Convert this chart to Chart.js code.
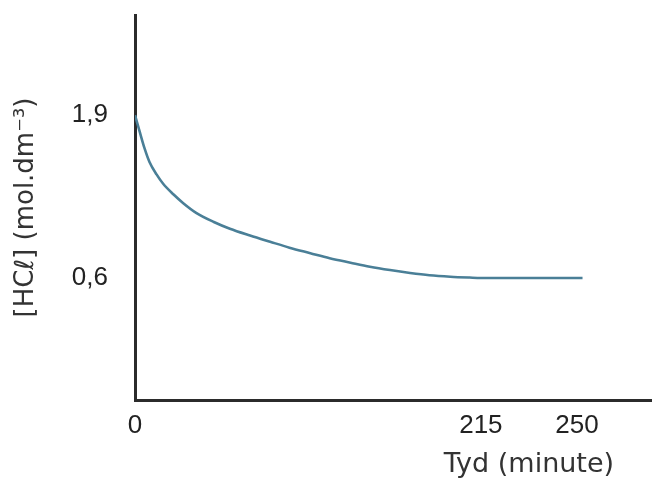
<!DOCTYPE html>
<html>
<head>
<meta charset="utf-8">
<script src="https://cdn.jsdelivr.net/npm/chart.js@4.4.1/dist/chart.umd.min.js"></script>
<style>
  html, body { margin: 0; padding: 0; background: #fff; }
  #box { width: 652px; height: 484px; }
</style>
</head>
<body>
<div id="box"><canvas id="grafico"></canvas></div>
<script>
// waardes gelees van die skets: tyd in minute, [HCl] in mol.dm-3
var tyd = [0, 3, 6, 9, 13.5, 17.5, 24, 30, 38, 49, 59, 71.5, 84, 96, 109, 121, 134, 146, 158.5, 171, 183, 196, 208, 215, 252];
var konsentrasie = [1.90, 1.764, 1.632, 1.526, 1.425, 1.352, 1.266, 1.197, 1.120, 1.047, 0.993, 0.939, 0.889, 0.842, 0.798, 0.758, 0.722, 0.690, 0.663, 0.640, 0.622, 0.610, 0.603, 0.600, 0.600];
var xMerke = [0, 215, 250];
var yMerke = [0.6, 1.9];

// die skets is nie op skaal nie: waar elke x-merk op die as le (deel van die breedte)
var xMerkPlek = [0, 0.669, 0.855];

// lineere skaal wat stuksgewys tussen die merke rek
class SketsSkaal extends Chart.LinearScale {
  getPixelForValue(v) {
    if (v === null || v === undefined) return NaN;
    var i = 1;
    while (i < xMerke.length - 1 && v > xMerke[i]) i++;
    var d = xMerkPlek[i - 1] + (v - xMerke[i - 1]) * (xMerkPlek[i] - xMerkPlek[i - 1]) / (xMerke[i] - xMerke[i - 1]);
    return this.getPixelForDecimal(d);
  }
  getValueForPixel(p) {
    var d = this.getDecimalForPixel(p);
    var i = 1;
    while (i < xMerkPlek.length - 1 && d > xMerkPlek[i]) i++;
    return xMerke[i - 1] + (d - xMerkPlek[i - 1]) * (xMerke[i] - xMerke[i - 1]) / (xMerkPlek[i] - xMerkPlek[i - 1]);
  }
}
SketsSkaal.id = 'skets';
SketsSkaal.defaults = {};
Chart.register(SketsSkaal);

// x-as titel, gesentreer tussen die laaste twee merke
var asTitel = {
  id: 'asTitel',
  afterDraw: function(chart) {
    var x = chart.scales.x;
    var ctx = chart.ctx;
    var midde = (x.getPixelForValue(xMerke[1]) + x.getPixelForValue(xMerke[2])) / 2;
    ctx.save();
    ctx.font = '27px "DejaVu Sans"';
    ctx.fillStyle = '#333';
    ctx.textAlign = 'center';
    ctx.textBaseline = 'alphabetic';
    ctx.fillText('Tyd (minute)', midde, x.bottom - 12);
    ctx.restore();
  }
};

var punte = [];
for (var i = 0; i < tyd.length; i++) {
  punte.push({ x: tyd[i], y: konsentrasie[i] });
}

var ctx = document.getElementById('grafico');
var chart = new Chart(ctx, {
  type: 'line',
  data: {
    datasets: [{
      label: '[HCℓ]',
      data: punte,
      borderColor: '#4a7f97',
      borderWidth: 2.6,
      pointRadius: 0,
      cubicInterpolationMode: 'monotone',
      fill: false
    }]
  },
  options: {
    responsive: true,
    maintainAspectRatio: false,
    animation: false,
    layout: { padding: { top: 15, right: 0, left: 0, bottom: 0 } },
    plugins: {
      legend: { display: false },
      tooltip: { enabled: false }
    },
    scales: {
      x: {
        type: 'skets',
        min: 0,
        max: 277,
        afterBuildTicks: function(scale) {
          scale.ticks = xMerke.map(function(v) { return { value: v }; });
        },
        afterFit: function(scale) {
          scale.height = 84;
          scale.paddingLeft = 0;
          scale.paddingRight = 0;
        },
        grid: { display: false, drawTicks: false },
        border: { display: true, color: '#2b2b2b', width: 3 },
        ticks: {
          autoSkip: false,
          maxRotation: 0,
          padding: 10,
          color: '#222',
          font: { family: '"Liberation Sans", Arial, sans-serif', size: 26 },
          callback: function(v) { return String(v); }
        }
      },
      y: {
        type: 'linear',
        min: -0.375,
        max: 2.7,
        afterBuildTicks: function(scale) {
          scale.ticks = yMerke.map(function(v) { return { value: v }; });
        },
        afterFit: function(scale) {
          scale.width = 135;
          scale.paddingTop = 0;
          scale.paddingBottom = 0;
        },
        grid: { display: false, drawTicks: false },
        border: { display: true, color: '#2b2b2b', width: 3 },
        ticks: {
          padding: 27,
          color: '#222',
          font: { family: '"Liberation Sans", Arial, sans-serif', size: 26 },
          callback: function(v) { return v.toFixed(1).replace('.', ','); }
        },
        title: {
          display: true,
          text: '[HCℓ] (mol.dm⁻³)',
          color: '#333',
          font: { family: '"DejaVu Sans", sans-serif', size: 26, weight: 'normal' },
          padding: { top: 11, bottom: 0 }
        }
      }
    }
  },
  plugins: [asTitel]
});
</script>
</body>
</html>
